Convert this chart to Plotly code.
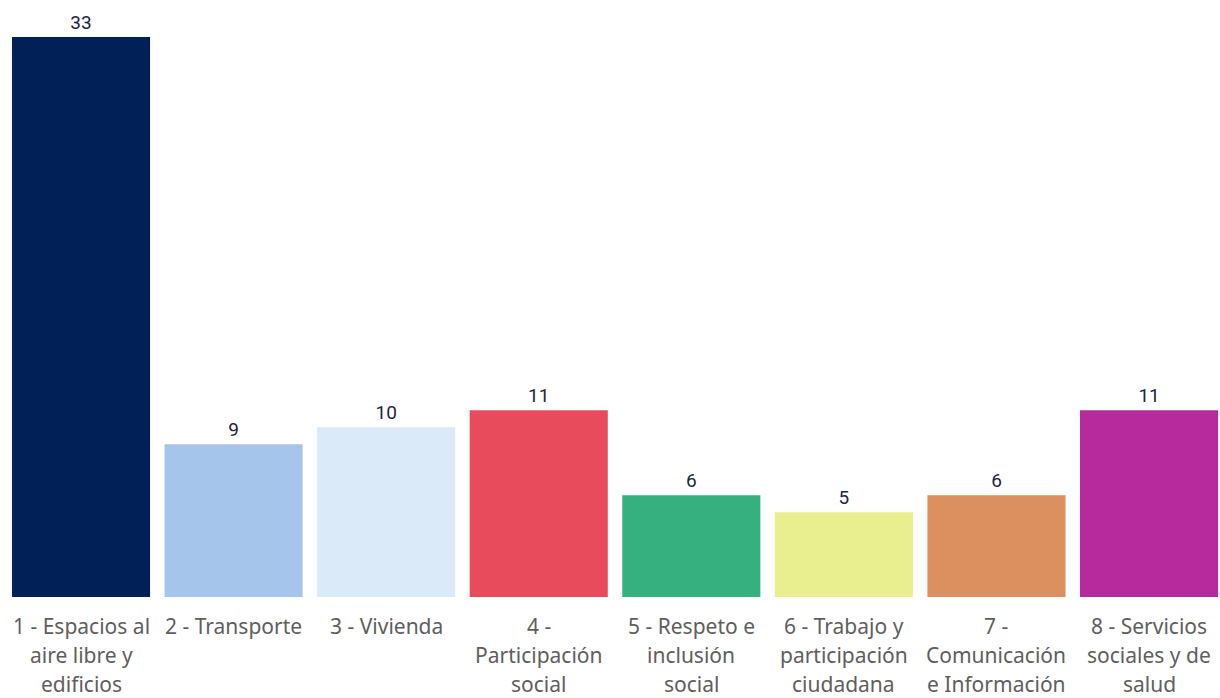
import plotly.graph_objects as go

categories = [
    ["1 - Espacios al", "aire libre y", "edificios"],
    ["2 - Transporte"],
    ["3 - Vivienda"],
    ["4 -", "Participación", "social"],
    ["5 - Respeto e", "inclusión", "social"],
    ["6 - Trabajo y", "participación", "ciudadana"],
    ["7 -", "Comunicación", "e Información"],
    ["8 - Servicios", "sociales y de", "salud"],
]
values = [33, 9, 10, 11, 6, 5, 6, 11]
colors = ["#012057", "#a6c5ea", "#dbeaf9", "#e84b5c", "#35b07e", "#e9ef8f", "#dc8f5f", "#b62a9d"]

x = list(range(len(values)))
fig = go.Figure(go.Bar(
    x=x, y=values, marker=dict(color=colors, line=dict(width=0)),
    width=0.905,
    text=[str(v) for v in values], textposition="outside",
    textfont=dict(family="Roboto", size=19, color="#1c2541"),
    cliponaxis=False, hoverinfo="skip",
))

annotations = []
for i, lines in enumerate(categories):
    for j, line in enumerate(lines):
        annotations.append(dict(
            x=i, y=0, xref="x", yref="y", text=line, showarrow=False,
            xanchor="center", yanchor="middle", yshift=-29 - 29 * j,
            font=dict(family="Noto Sans", size=21, color="#605e5c"),
        ))

fig.update_layout(
    width=1220, height=698, paper_bgcolor="white", plot_bgcolor="white",
    margin=dict(l=0, r=0, t=37, b=101), showlegend=False,
    annotations=annotations,
    xaxis=dict(range=[-0.531, 7.465], showticklabels=False, automargin=False,
               showgrid=False, zeroline=False, showline=False, ticks=""),
    yaxis=dict(range=[0, 33], visible=False, automargin=False),
)
fig.write_html(
    "out.html",
    config={"displayModeBar": False},
    post_script="document.body.style.margin='0';document.body.style.overflow='hidden';",
)
